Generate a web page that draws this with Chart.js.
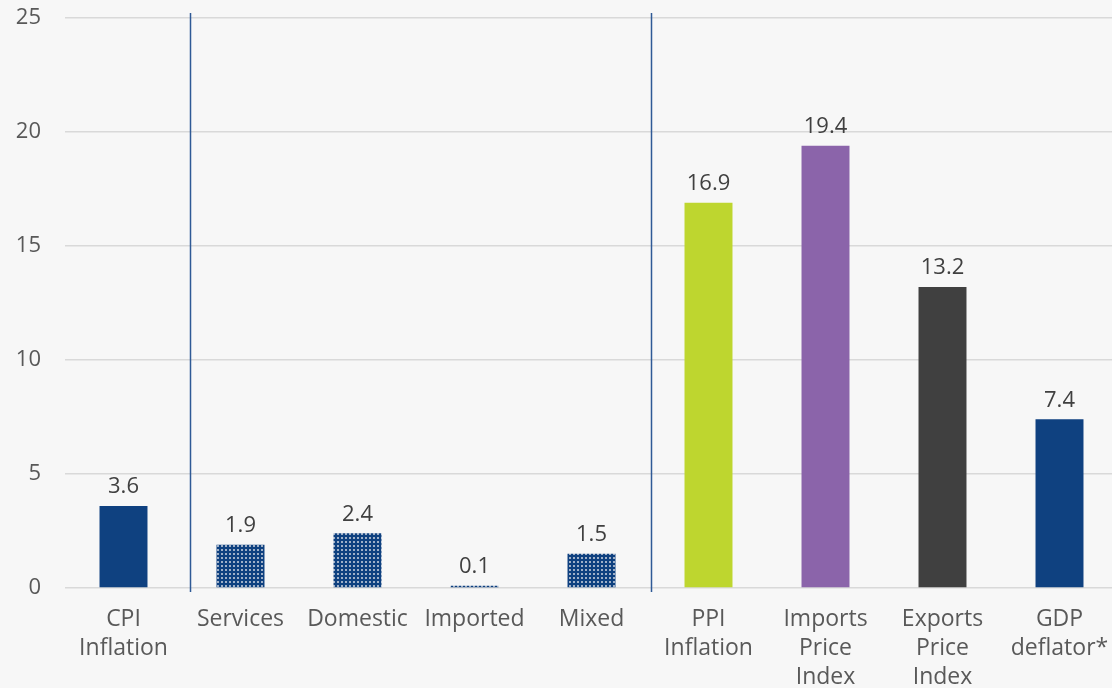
<!DOCTYPE html>
<html>
<head>
<meta charset="utf-8">
<script src="https://cdn.jsdelivr.net/npm/chart.js@4"></script>
<style>
  html, body { margin: 0; padding: 0; background: #f7f7f7; overflow: hidden; }
  #wrap { width: 1118px; height: 688px; }
</style>
</head>
<body>
<div id="wrap"><canvas id="inflationChart"></canvas></div>
<script>
const categories = [
  ["CPI", "Inflation"], "Services", "Domestic", "Imported", "Mixed",
  ["PPI", "Inflation"], ["Imports", "Price", "Index"], ["Exports", "Price", "Index"],
  ["GDP", "deflator*"]
];
const values = [3.6, 1.9, 2.4, 0.1, 1.5, 16.9, 19.4, 13.2, 7.4];
const yTicks = [0, 5, 10, 15, 20, 25];

// dotted fill for the CPI components
function dotPattern() {
  const c = document.createElement("canvas");
  c.width = 4; c.height = 4;
  const g = c.getContext("2d");
  g.fillStyle = "#0f4180";
  g.fillRect(0, 0, 4, 4);
  g.fillStyle = "#9fb0c8";
  g.fillRect(1, 1, 2, 2);
  return g.createPattern(c, "repeat");
}
const dots = dotPattern();
const barColors = ["#0f4180", dots, dots, dots, dots, "#bed62f", "#8b64aa", "#404040", "#0f4180"];

const FONT = "'Open Sans', 'Noto Sans', sans-serif";

const dividers = {
  id: "dividers",
  afterDatasetsDraw(chart) {
    const { ctx, scales: { x }, chartArea } = chart;
    ctx.save();
    ctx.strokeStyle = "#2f5a96";
    ctx.lineWidth = 1.5;
    [0.57, 4.51].forEach((v) => {
      const px = Math.round(x.getPixelForValue(v)) + 0.5;
      ctx.beginPath();
      ctx.moveTo(px, chartArea.top - 5);
      ctx.lineTo(px, chartArea.bottom + 4);
      ctx.stroke();
    });
    ctx.restore();
  },
};

const valueLabels = {
  id: "valueLabels",
  afterDatasetsDraw(chart) {
    const { ctx } = chart;
    const meta = chart.getDatasetMeta(0);
    ctx.save();
    ctx.font = "22px " + FONT;
    ctx.fillStyle = "#404040";
    ctx.textAlign = "center";
    ctx.textBaseline = "bottom";
    meta.data.forEach((bar, i) => {
      ctx.fillText(values[i].toFixed(1), bar.x, bar.y - 8);
    });
    ctx.restore();
  },
};

new Chart(document.getElementById("inflationChart"), {
  type: "bar",
  data: {
    labels: categories,
    datasets: [{
      data: values,
      backgroundColor: barColors,
      borderWidth: 0,
      barPercentage: 0.41,
      categoryPercentage: 1,
    }],
  },
  options: {
    responsive: true,
    maintainAspectRatio: false,
    animation: false,
    layout: { autoPadding: false, padding: { top: 18, right: 0, left: 0, bottom: 0 } },
    plugins: { legend: { display: false }, tooltip: { enabled: false } },
    scales: {
      x: {
        afterFit(scale) { scale.height = 100; },
        grid: { display: false },
        border: { display: false },
        ticks: {
          color: "#595959",
          font: { size: 23, family: FONT, lineHeight: 1.26 },
          padding: 9,
          maxRotation: 0,
          autoSkip: false,
        },
      },
      y: {
        min: 0,
        max: 25,
        afterFit(scale) { scale.width = 65; },
        afterBuildTicks(scale) { scale.ticks = yTicks.map((v) => ({ value: v })); },
        grid: { color: "#d9d9d9", lineWidth: 1.5, tickLength: 24, tickColor: "transparent" },
        border: { display: false },
        ticks: {
          color: "#595959",
          font: { size: 22, family: FONT },
          padding: 0,
        },
      },
    },
  },
  plugins: [dividers, valueLabels],
});
</script>
</body>
</html>
